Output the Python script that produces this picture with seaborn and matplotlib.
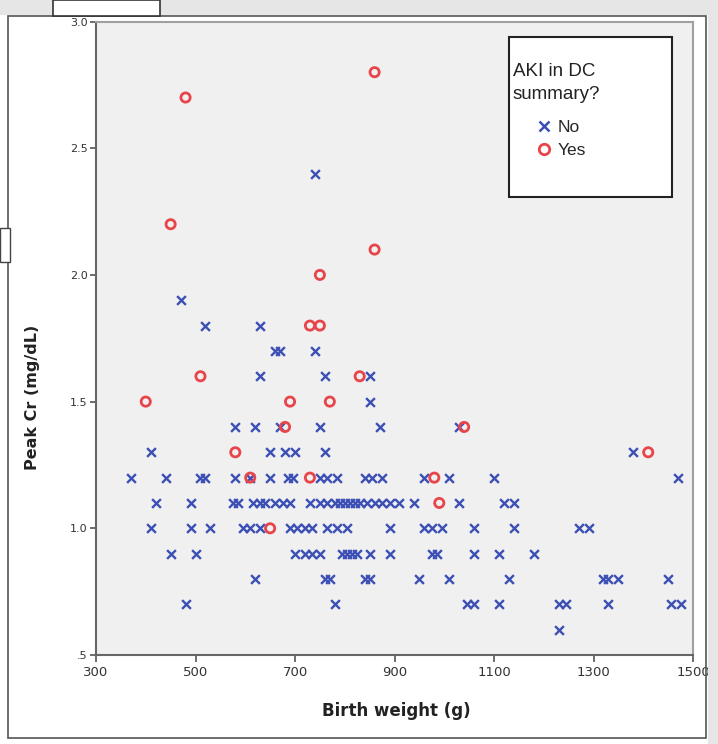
import matplotlib
matplotlib.use("Agg")
import numpy as np
import pandas as pd
import matplotlib.pyplot as plt
import seaborn as sns
from matplotlib.lines import Line2D
from matplotlib.patches import Rectangle

# values (birth weight in g, peak Cr in mg/dL)
no_bw = [740,
         470,
         520, 630,
         660, 670, 740,
         630, 760, 850,
         850,
         580, 620, 670, 750, 870, 1030,
         410, 650, 680, 700, 760, 1380,
         370, 440, 510, 520, 580, 610, 650, 685, 695, 750, 765, 785, 840, 855, 875, 960, 1010, 1100, 1470,
         420, 490, 575, 585, 615, 630, 640, 660, 675, 690, 730, 750, 765, 780, 790, 800, 810, 820, 830, 845,
         860, 875, 890, 910, 940, 1030, 1120, 1140,
         410, 490, 530, 595, 610, 630, 690, 705, 720, 735, 765, 785, 805, 890, 960, 975, 995, 1060, 1140,
         1270, 1290,
         450, 500, 700, 720, 735, 750, 795, 805, 815, 825, 850, 890, 975, 985, 1060, 1110, 1180,
         620, 760, 770, 840, 850, 950, 1010, 1130, 1320, 1330, 1350, 1450,
         480, 780, 1045, 1060, 1110, 1230, 1245, 1330, 1455, 1475,
         1230]
no_cr = [2.4,
         1.9,
         1.8, 1.8,
         1.7, 1.7, 1.7,
         1.6, 1.6, 1.6,
         1.5,
         1.4, 1.4, 1.4, 1.4, 1.4, 1.4,
         1.3, 1.3, 1.3, 1.3, 1.3, 1.3,
         1.2, 1.2, 1.2, 1.2, 1.2, 1.2, 1.2, 1.2, 1.2, 1.2, 1.2, 1.2, 1.2, 1.2, 1.2, 1.2, 1.2, 1.2, 1.2,
         1.1, 1.1, 1.1, 1.1, 1.1, 1.1, 1.1, 1.1, 1.1, 1.1, 1.1, 1.1, 1.1, 1.1, 1.1, 1.1, 1.1, 1.1, 1.1, 1.1,
         1.1, 1.1, 1.1, 1.1, 1.1, 1.1, 1.1, 1.1,
         1.0, 1.0, 1.0, 1.0, 1.0, 1.0, 1.0, 1.0, 1.0, 1.0, 1.0, 1.0, 1.0, 1.0, 1.0, 1.0, 1.0, 1.0, 1.0,
         1.0, 1.0,
         0.9, 0.9, 0.9, 0.9, 0.9, 0.9, 0.9, 0.9, 0.9, 0.9, 0.9, 0.9, 0.9, 0.9, 0.9, 0.9, 0.9,
         0.8, 0.8, 0.8, 0.8, 0.8, 0.8, 0.8, 0.8, 0.8, 0.8, 0.8, 0.8,
         0.7, 0.7, 0.7, 0.7, 0.7, 0.7, 0.7, 0.7, 0.7, 0.7,
         0.6]

yes_bw = [860, 480, 450, 860, 750, 730, 750, 510, 830, 400, 690, 770,
          680, 1040, 580, 1410, 610, 730, 980, 990, 650]
yes_cr = [2.8, 2.7, 2.2, 2.1, 2.0, 1.8, 1.8, 1.6, 1.6, 1.5, 1.5, 1.5,
          1.4, 1.4, 1.3, 1.3, 1.2, 1.2, 1.2, 1.1, 1.0]

groups = ["No", "Yes"]
x_ticks = [300, 500, 700, 900, 1100, 1300, 1500]
y_ticks = [0.5, 1.0, 1.5, 2.0, 2.5, 3.0]
y_tick_labels = [".5", "1.0", "1.5", "2.0", "2.5", "3.0"]

blue = "#3C4FB4"
red = "#E8454B"

no_df = pd.DataFrame({"bw": no_bw, "cr": no_cr})
yes_df = pd.DataFrame({"bw": yes_bw, "cr": yes_cr})

sns.set_theme(style="white")
plt.rcParams["font.family"] = ["DejaVu Sans"]

W, H = 718, 744
fig = plt.figure(figsize=(W / 100, H / 100), dpi=100)
fig.patch.set_facecolor("white")

# plot area in pixel terms: x 96..693, y 21.5..655
ax = fig.add_axes([96 / W, 1 - 655 / H, 597 / W, 633.5 / H])
ax.set_facecolor("#F0F0F0")

sns.scatterplot(data=no_df, x="bw", y="cr", marker="x", color=blue, s=40,
                linewidth=1.7, ax=ax, zorder=2)
sns.scatterplot(data=yes_df, x="bw", y="cr", marker="o", facecolors="none",
                edgecolor=red, s=44, linewidth=2.0, ax=ax, zorder=3)

ax.set_xlim(300, 1500)
ax.set_ylim(0.5, 3.0)
ax.set_xticks(x_ticks)
ax.set_xticklabels([str(t) for t in x_ticks])
ax.set_yticks(y_ticks)
ax.set_yticklabels(y_tick_labels)
ax.set_xlabel("")
ax.set_ylabel("")

ax.tick_params(axis="x", direction="out", length=5, width=1.2, color="#555555",
               labelsize=9.5, labelcolor="#333333", pad=3, bottom=True)
ax.tick_params(axis="y", direction="out", length=4, width=1.2, color="#555555",
               labelsize=8, labelcolor="#333333", pad=2, left=True)
for side in ["left", "bottom"]:
    ax.spines[side].set_color("#666666")
    ax.spines[side].set_linewidth(1.5)
for side in ["top", "right"]:
    ax.spines[side].set_color("#A0A0A0")
    ax.spines[side].set_linewidth(1.5)

# axis titles
fig.text(396 / W, 1 - 711 / H, "Birth weight (g)", ha="center", va="center",
         fontsize=12, fontweight="bold", color="#222222")
fig.text(33 / W, 1 - 397 / H, "Peak Cr (mg/dL)", ha="center", va="center",
         rotation=90, fontsize=11.5, fontweight="bold", color="#222222")

# legend box
ax.add_patch(Rectangle(((509 - 96) / 597, (655 - 197) / 633.5), 163 / 597, 160 / 633.5,
                       transform=ax.transAxes, facecolor="white", edgecolor="#222222",
                       linewidth=1.5, zorder=4))
ax.text((513 - 96) / 597, (655 - 63) / 633.5, "AKI in DC\nsummary?",
        transform=ax.transAxes, ha="left", va="top", fontsize=13.5,
        family=["Liberation Sans", "DejaVu Sans"], color="#222222",
        linespacing=1.45, zorder=5)
handles = [Line2D([], [], marker="x", color=blue, linestyle="", markersize=7,
                  markeredgewidth=1.8),
           Line2D([], [], marker="o", markerfacecolor="none", markeredgecolor=red,
                  linestyle="", markersize=7.5, markeredgewidth=2.0)]
leg = ax.legend(handles, groups, loc="upper left",
                bbox_to_anchor=((537 - 96) / 597, (655 - 120) / 633.5),
                frameon=False, borderpad=0, borderaxespad=0, handlelength=0.75,
                handletextpad=0.45, labelspacing=0.45,
                prop={"family": ["Liberation Sans", "DejaVu Sans"], "size": 12.5})
leg.set_zorder(6)

# outer chart frame and screenshot edges
fig.patches.append(Rectangle((0, 1 - 15 / H), 1, 15 / H, transform=fig.transFigure,
                             facecolor="#E6E6E6", edgecolor="none", zorder=0))
fig.patches.append(Rectangle((708 / W, 0), 10 / W, 1, transform=fig.transFigure,
                             facecolor="#E6E6E6", edgecolor="none", zorder=0))
fig.patches.append(Rectangle((8 / W, 1 - 738 / H), 698 / W, 722 / H,
                             transform=fig.transFigure, fill=False,
                             edgecolor="#555555", linewidth=1.2, zorder=1))
fig.patches.append(Rectangle((53 / W, 1 - 16 / H), 107 / W, 16 / H,
                             transform=fig.transFigure, facecolor="white",
                             edgecolor="#333333", linewidth=1.2, zorder=1))
fig.patches.append(Rectangle((0, 1 - 262 / H), 10 / W, 34 / H,
                             transform=fig.transFigure, facecolor="white",
                             edgecolor="#444444", linewidth=1.0, zorder=1))

fig.savefig("out.png", dpi=100)
